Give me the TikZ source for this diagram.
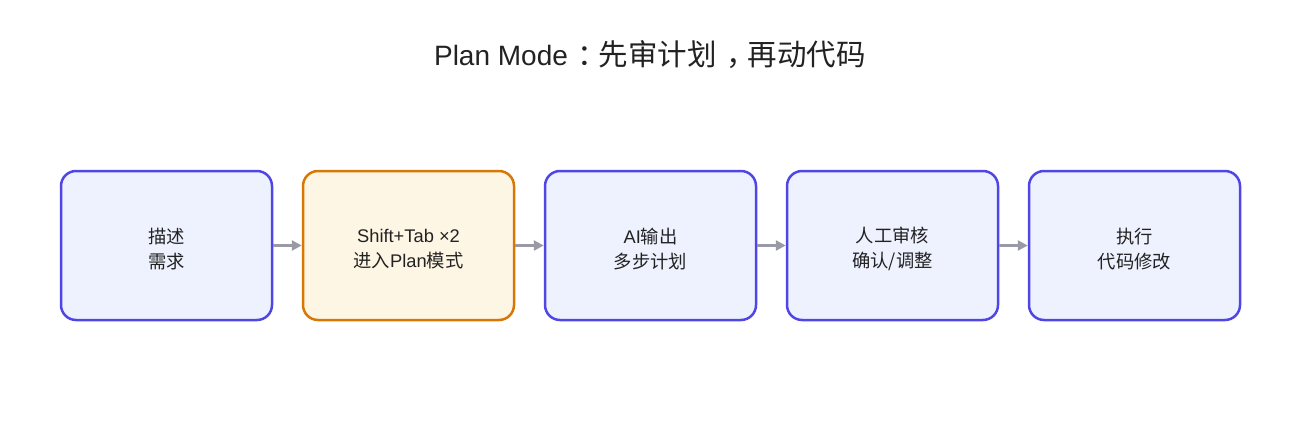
\documentclass[tikz,border=0pt]{standalone}
\usepackage{fontspec}
\setmainfont{Liberation Sans}
\newfontfamily\cjk{Noto Sans CJK SC}
\usetikzlibrary{arrows.meta}
\definecolor{bluedraw}{HTML}{5046E5}
\definecolor{bluefill}{HTML}{EEF2FF}
\definecolor{orangedraw}{HTML}{D97706}
\definecolor{orangefill}{HTML}{FEF6E4}
\definecolor{arrowgray}{HTML}{9A9AA6}
\definecolor{textdark}{HTML}{222222}
\newcommand{\zh}[1]{{\cjk #1}}
\newcommand{\bigzh}[1]{{\cjk\fontsize{29.5}{32}\selectfont #1}}
\newcommand{\fwp}[1]{\makebox[31pt][l]{\hspace{10pt}\cjk\fontsize{29.5}{32}\selectfont #1}}
\begin{document}
\begin{tikzpicture}[x=1pt,y=-1pt,
  stepbox/.style={draw=bluedraw,fill=bluefill,line width=2.5pt,rounded corners=15pt,
    minimum width=211pt,minimum height=149pt,inner sep=0pt},
  keybox/.style={stepbox,draw=orangedraw,fill=orangefill},
  lbl/.style={align=center,yshift=-3.5pt,inner sep=0pt,
    font=\fontsize{18.3}{25}\selectfont,text=textdark},
  flow/.style={draw=arrowgray,line width=2.5pt,-{Triangle[length=10pt,width=10pt]}}]
\useasboundingbox (0,0) rectangle (1300,420);
\node[font=\fontsize{28}{32}\selectfont,text=textdark] (title) at (650,55)
  {Plan Mode\fwp{：}\bigzh{先审计划}\fwp{，}\bigzh{再动代码}};
\node[stepbox,label={[lbl]center:\zh{描述}\\\zh{需求}}] (s1) at (166.5,245.5) {};
\node[keybox,label={[lbl]center:Shift+Tab ×2\\\zh{进入}Plan\zh{模式}}] (s2) at (408.5,245.5) {};
\node[stepbox,label={[lbl]center:AI\zh{输出}\\\zh{多步计划}}] (s3) at (650.5,245.5) {};
\node[stepbox,label={[lbl]center:\zh{人工审核}\\\zh{确认/调整}}] (s4) at (892.5,245.5) {};
\node[stepbox,label={[lbl]center:\zh{执行}\\\zh{代码修改}}] (s5) at (1134.5,245.5) {};
\draw[flow] (s1) -- (s2);
\draw[flow] (s2) -- (s3);
\draw[flow] (s3) -- (s4);
\draw[flow] (s4) -- (s5);
\end{tikzpicture}
\end{document}
